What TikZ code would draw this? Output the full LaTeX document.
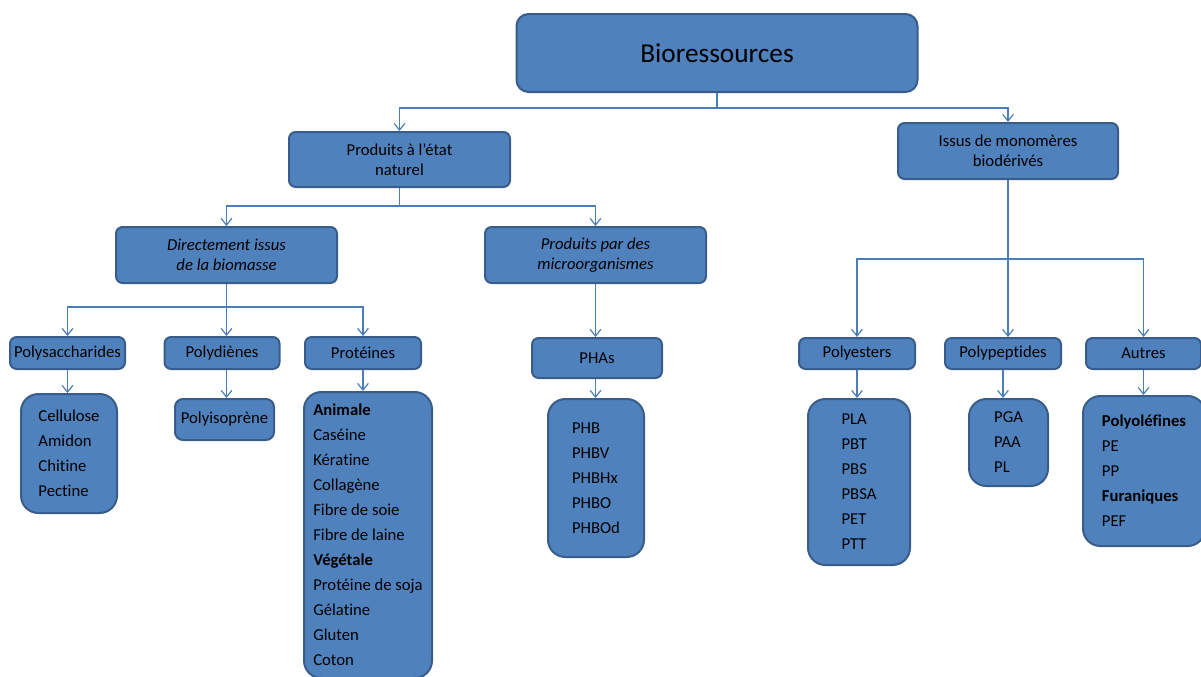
\documentclass[tikz,border=0pt]{standalone}
\usepackage{fontspec}
\setmainfont{Carlito}[Ligatures=NoCommon]
\usetikzlibrary{arrows.meta}
\definecolor{boxfill}{HTML}{4F81BD}
\definecolor{boxline}{HTML}{385D8A}
\definecolor{linkcol}{HTML}{4A7EBB}

\begin{document}
\begin{tikzpicture}[x=0.75pt,y=-0.75pt,>={Straight Barb[length=5pt,width=8pt]},
                    sz/.style 2 args={minimum width=#1*0.75pt,minimum height=#2*0.75pt},
                    box/.style={draw=boxline,fill=boxfill,line width=1.5pt,rounded corners=5pt,
                      inner sep=0pt,align=center,font=\fontsize{12.5}{15}\selectfont},
                    list/.style={box,rounded corners=13pt,align=left,font=\fontsize{12.5}{18.75}\selectfont},
                    conn/.style={->,draw=linkcol,line width=0.9pt}]
  \useasboundingbox (0,0) rectangle (1201,676);

  % top levels
  \node[box,sz={401}{78},rounded corners=9pt,font=\fontsize{20.5}{24}\selectfont] (bio) at (717,53) {Bioressources};
  \node[box,sz={221}{55}] (nat) at (399.5,159.5) {Produits à l’état\\naturel};
  \node[box,sz={220}{56}] (issus) at (1008,151) {Issus de monomères\\biodérivés};
  \node[box,sz={221}{56},font=\fontsize{12.5}{15}\selectfont\itshape] (direct) at (226.5,255) {Directement issus\\de la biomasse};
  \node[box,sz={221}{56},font=\fontsize{12.5}{15}\selectfont\itshape] (micro) at (595.5,255) {Produits par des\\microorganismes};

  % families
  \node[box,sz={115}{32}] (polysac) at (67.5,353) {Polysaccharides};
  \node[box,sz={115}{32}] (polydi) at (222,353) {Polydiènes};
  \node[box,sz={116}{32}] (prot) at (363,353) {Protéines};
  \node[box,sz={130}{40}] (pha) at (597,358) {PHAs};
  \node[box,sz={116}{31}] (polyest) at (857,353.5) {Polyesters};
  \node[box,sz={116}{31}] (polypep) at (1003,353.5) {Polypeptides};
  \node[box,sz={115}{31}] (autres) at (1143.5,353.5) {Autres};

  % lists
  \node[list,sz={96}{119}] (cell) at (69,453.5) {Cellulose\\Amidon\\Chitine\\Pectine};
  \node[box,sz={99}{41},rounded corners=6pt] (polyiso) at (224.5,419.5) {Polyisoprène};
  \node[list,sz={128}{286}] (protlist) at (368,535)
    {\textbf{Animale}\\Caséine\\Kératine\\Collagène\\Fibre de soie\\Fibre de laine\\
     \textbf{Végétale}\\Protéine de soja\\Gélatine\\Gluten\\Coton};
  \node[list,sz={96}{158}] (phb) at (596,478) {PHB\\PHBV\\PHBHx\\PHBO\\PHBOd};
  \node[list,sz={102}{166}] (pla) at (859,482) {PLA\\PBT\\PBS\\PBSA\\PET\\PTT};
  \node[list,sz={79}{87}] (pga) at (1008.5,442.5) {PGA\\PAA\\PL};
  \node[list,sz={122}{150}] (autlist) at (1144,471)
    {\textbf{Polyoléfines}\\PE\\PP\\\textbf{Furaniques}\\PEF};

  % bus lines
  \coordinate (busA) at (717,108);
  \coordinate (busB) at (399.5,206);
  \coordinate (busC) at (226.5,307);
  \coordinate (busD) at (1008,259);

  \draw[conn] (bio.south) -- (busA) -| (nat.north);
  \draw[conn] (busA) -| (issus.north);
  \draw[conn] (nat.south) -- (busB) -| (direct.north);
  \draw[conn] (busB) -| (micro.north);
  \draw[conn] (direct.south) -- (busC) -| (polysac.north);
  \draw[conn] (busC) -- (busC |- polydi.north);
  \draw[conn] (busC) -| (prot.north);
  \draw[conn] (micro.south) -- (micro.south |- pha.north);
  \draw[conn] (issus.south) -- (busD) -| (polyest.north);
  \draw[conn] (busD) -- (busD |- polypep.north);
  \draw[conn] (busD) -| (autres.north);

  \draw[conn] (polysac.south) -- (polysac.south |- cell.north);
  \draw[conn] (busC |- polydi.south) -- (busC |- polyiso.north);
  \draw[conn] (prot.south) -- (prot.south |- protlist.north);
  \draw[conn] (micro.south |- pha.south) -- (micro.south |- phb.north);
  \draw[conn] (polyest.south) -- (polyest.south |- pla.north);
  \draw[conn] (polypep.south) -- (polypep.south |- pga.north);
  \draw[conn] (autres.south) -- (autres.south |- autlist.north);
\end{tikzpicture}
\end{document}
